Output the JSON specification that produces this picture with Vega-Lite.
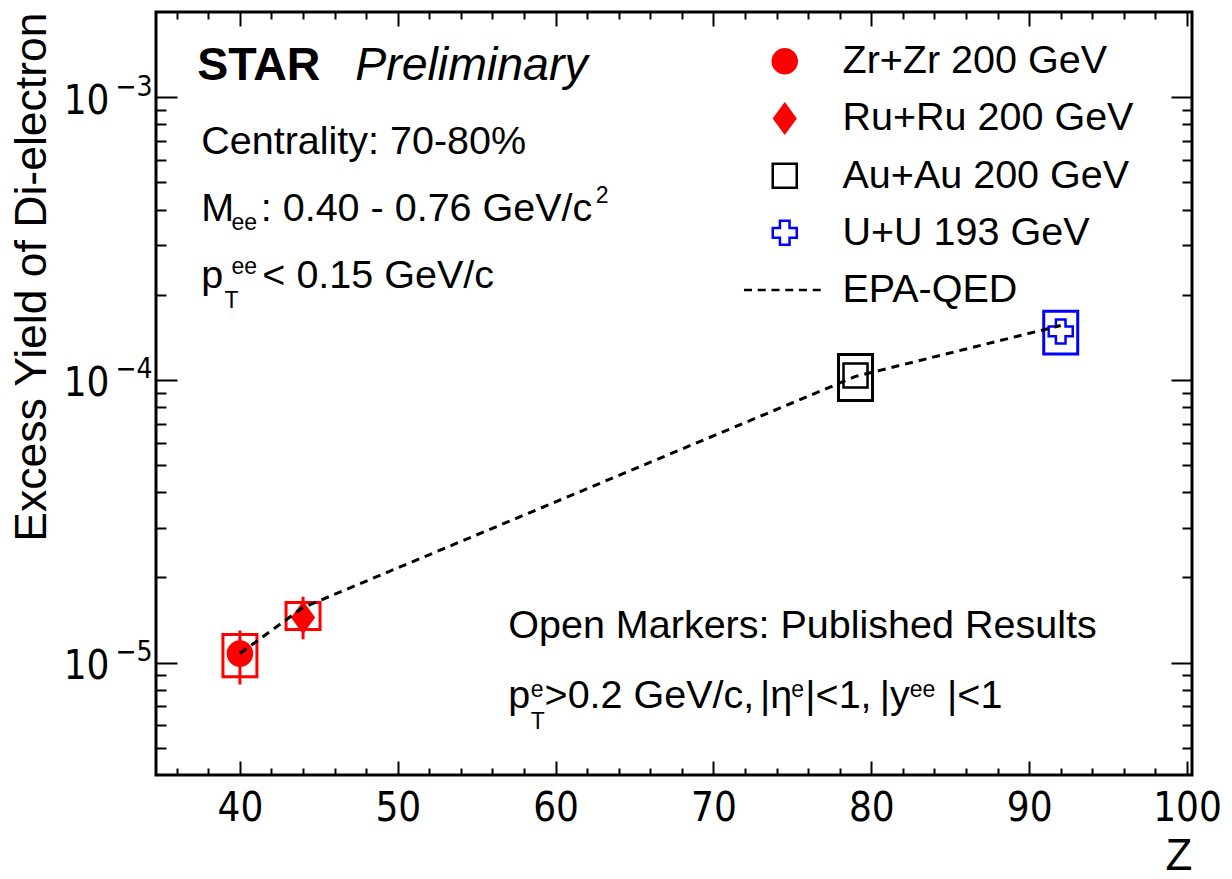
{
  "$schema": "https://vega.github.io/schema/vega-lite/v6.json",
  "autosize": {"type": "none"},
  "padding": {"left": 156, "top": 12, "right": 40, "bottom": 104},
  "width": 1036,
  "height": 763,
  "background": "white",
  "config": {
    "view": {"stroke": "black", "strokeWidth": 3},
    "axis": {"grid": false, "domain": false, "tickColor": "black", "labelColor": "black", "titleColor": "black"}
  },
  "datasets": {
    "pts": [
      {"series": "Zr+Zr 200 GeV", "Z": 40, "val": 1.076e-5, "sysLo": 0.891e-5, "sysHi": 1.256e-5, "errLo": 0.836e-5, "errHi": 1.297e-5},
      {"series": "Ru+Ru 200 GeV", "Z": 44, "val": 1.443e-5, "sysLo": 1.309e-5, "sysHi": 1.629e-5, "errLo": 1.208e-5, "errHi": 1.709e-5},
      {"series": "Au+Au 200 GeV", "Z": 79, "val": 1.036e-4, "sysLo": 0.845e-4, "sysHi": 1.230e-4},
      {"series": "U+U 193 GeV", "Z": 92, "val": 1.483e-4, "sysLo": 1.233e-4, "sysHi": 1.748e-4}
    ],
    "epa": [
      {"series": "EPA-QED", "Z": 40, "epa": 1.076e-5},
      {"series": "EPA-QED", "Z": 44, "epa": 1.565e-5},
      {"series": "EPA-QED", "Z": 79, "epa": 1.028e-4},
      {"series": "EPA-QED", "Z": 92, "epa": 1.556e-4}
    ],
    "mainText": [
      {"t": "Centrality: 70-80%", "z": 37.55, "v": 6.27e-4},
      {"t": "M", "z": 37.55, "v": 3.64e-4},
      {"t": ": 0.40 - 0.76 GeV/c", "z": 41.32, "v": 3.64e-4},
      {"t": "p", "z": 37.55, "v": 2.115e-4},
      {"t": "< 0.15 GeV/c", "z": 41.42, "v": 2.115e-4},
      {"t": "Open Markers: Published Results", "z": 57.0, "v": 1.223e-5},
      {"t": "p", "z": 57.0, "v": 6.915e-6},
      {"t": ">0.2 GeV/c,", "z": 59.3, "v": 6.915e-6},
      {"t": "|η", "z": 72.95, "v": 6.915e-6},
      {"t": "|<1,", "z": 75.82, "v": 6.915e-6},
      {"t": "|y", "z": 80.54, "v": 6.915e-6},
      {"t": "|<1", "z": 84.8, "v": 6.915e-6}
    ],
    "smallText": [
      {"t": "ee", "z": 39.47, "v": 3.40e-4},
      {"t": "2", "z": 62.54, "v": 4.22e-4},
      {"t": "ee", "z": 39.47, "v": 2.358e-4},
      {"t": "T", "z": 39.02, "v": 1.798e-4},
      {"t": "e", "z": 58.42, "v": 7.56e-6},
      {"t": "T", "z": 58.42, "v": 5.83e-6},
      {"t": "e", "z": 74.93, "v": 7.56e-6},
      {"t": "ee", "z": 82.44, "v": 7.56e-6}
    ],
    "boldText": [{"t": "STAR", "z": 37.3, "v": 1.154e-3}],
    "italicText": [{"t": "Preliminary", "z": 47.3, "v": 1.154e-3}]
  },
  "resolve": {"axis": {"x": "independent", "y": "independent"}},
  "layer": [
    {
      "data": {"name": "pts"},
      "mark": {"type": "point", "filled": true, "opacity": 1, "size": 576, "strokeWidth": 2.5},
      "encoding": {
        "x": {"field": "Z", "type": "quantitative", "scale": {"domain": [35, 100], "nice": false, "zero": false},
          "axis": {"orient": "bottom", "values": [36, 38, 42, 44, 46, 48, 52, 54, 56, 58, 62, 64, 66, 68, 72, 74, 76, 78, 82, 84, 86, 88, 92, 94, 96, 98], "tickSize": -7, "tickWidth": 2, "labels": false, "title": null}},
        "y": {"field": "val", "type": "quantitative", "scale": {"type": "log", "domain": [4e-6, 2e-3], "nice": false},
          "axis": {"orient": "left", "values": [5e-6, 6e-6, 7e-6, 8e-6, 9e-6, 2e-5, 3e-5, 4e-5, 5e-5, 6e-5, 7e-5, 8e-5, 9e-5, 2e-4, 3e-4, 4e-4, 5e-4, 6e-4, 7e-4, 8e-4, 9e-4], "tickSize": -10, "tickWidth": 2, "labels": false, "title": null}},
        "shape": {"field": "series", "type": "nominal",
          "scale": {"domain": ["Zr+Zr 200 GeV", "Ru+Ru 200 GeV", "Au+Au 200 GeV", "U+U 193 GeV", "EPA-QED"],
            "range": ["circle", "M0,-1.2L0.88,0L0,1.2L-0.88,0Z", "square", "cross", "M-3.4,0H-2.73M-2.254,0H-1.584M-1.108,0H-0.438M0.038,0H0.708M1.184,0H1.854M2.33,0H3.0"]},
          "legend": {"orient": "none", "legendX": 609, "legendY": 29.5, "title": null, "padding": 0,
            "labelFont": "Liberation Sans", "labelFontSize": 39.5, "labelColor": "black", "labelOffset": 38, "labelLimit": 500,
            "symbolSize": 576, "symbolStrokeWidth": 2.5, "rowPadding": 16.2, "symbolOffset": 0}},
        "fill": {"field": "series", "type": "nominal",
          "scale": {"domain": ["Zr+Zr 200 GeV", "Ru+Ru 200 GeV", "Au+Au 200 GeV", "U+U 193 GeV", "EPA-QED"], "range": ["#ff0000", "#ff0000", "transparent", "transparent", "transparent"]},
          "legend": {"orient": "none", "legendX": 609, "legendY": 29.5, "title": null, "padding": 0,
            "labelFont": "Liberation Sans", "labelFontSize": 39.5, "labelColor": "black", "labelOffset": 38, "labelLimit": 500,
            "symbolSize": 576, "symbolStrokeWidth": 2.5, "rowPadding": 16.2, "symbolOffset": 0}},
        "stroke": {"field": "series", "type": "nominal",
          "scale": {"domain": ["Zr+Zr 200 GeV", "Ru+Ru 200 GeV", "Au+Au 200 GeV", "U+U 193 GeV", "EPA-QED"], "range": ["#ff0000", "#ff0000", "#000000", "#0000ff", "#000000"]},
          "legend": {"orient": "none", "legendX": 609, "legendY": 29.5, "title": null, "padding": 0,
            "labelFont": "Liberation Sans", "labelFontSize": 39.5, "labelColor": "black", "labelOffset": 38, "labelLimit": 500,
            "symbolSize": 576, "symbolStrokeWidth": 2.5, "rowPadding": 16.2, "symbolOffset": 0}}
      }
    },
    {
      "data": {"name": "pts"},
      "mark": {"type": "bar", "width": 34, "fill": "transparent", "strokeWidth": 3},
      "encoding": {
        "x": {"field": "Z", "type": "quantitative", "scale": {"domain": [35, 100], "nice": false, "zero": false},
          "axis": {"orient": "bottom", "values": [40, 50, 60, 70, 80, 90, 100], "ticks": false,
            "labelFont": "Liberation Sans Narrow, DejaVu Sans Condensed, Liberation Sans", "labelFontSize": 40, "labelPadding": 13,
            "labelFlush": false, "labelOverlap": false, "labelBound": false,
            "title": "Z", "titleFont": "Liberation Sans", "titleFontSize": 44, "titleFontWeight": "normal",
            "titleAlign": "right", "titleBaseline": "alphabetic", "titleX": 1036, "titleY": 94, "titleAngle": 0}},
        "y": {"field": "sysLo", "type": "quantitative", "scale": {"type": "log", "domain": [4e-6, 2e-3], "nice": false},
          "axis": {"orient": "left", "values": [1e-5, 1e-4, 1e-3], "ticks": false, "labelExpr": "'10'",
            "labelFont": "Liberation Sans Narrow, DejaVu Sans Condensed, Liberation Sans", "labelFontSize": 40, "labelPadding": 47, "labelOffset": 4,
            "labelFlush": false, "labelOverlap": false, "labelBound": false,
            "title": "Excess Yield of Di-electron", "titleFont": "Liberation Sans", "titleFontSize": 44.5, "titleFontWeight": "normal",
            "titleAngle": -90, "titleAlign": "right", "titleBaseline": "alphabetic", "titleX": -111, "titleY": 0}},
        "y2": {"field": "sysHi"},
        "stroke": {"field": "series", "type": "nominal",
          "scale": {"domain": ["Zr+Zr 200 GeV", "Ru+Ru 200 GeV", "Au+Au 200 GeV", "U+U 193 GeV", "EPA-QED"], "range": ["#ff0000", "#ff0000", "#000000", "#0000ff", "#000000"]},
          "legend": null}
      }
    },
    {
      "data": {"name": "pts"},
      "transform": [{"filter": "isValid(datum.errLo)"}],
      "mark": {"type": "rule", "strokeWidth": 3},
      "encoding": {
        "x": {"field": "Z", "type": "quantitative", "scale": {"domain": [35, 100], "nice": false, "zero": false},
          "axis": {"orient": "bottom", "values": [40, 50, 60, 70, 80, 90, 100], "tickSize": -14, "tickWidth": 2, "labels": false, "title": null}},
        "y": {"field": "errLo", "type": "quantitative", "scale": {"type": "log", "domain": [4e-6, 2e-3], "nice": false},
          "axis": {"orient": "left", "values": [1e-5, 1e-4, 1e-3], "tickSize": -21, "tickWidth": 2, "labels": false, "title": null}},
        "y2": {"field": "errHi"},
        "stroke": {"field": "series", "type": "nominal",
          "scale": {"domain": ["Zr+Zr 200 GeV", "Ru+Ru 200 GeV", "Au+Au 200 GeV", "U+U 193 GeV", "EPA-QED"], "range": ["#ff0000", "#ff0000", "#000000", "#0000ff", "#000000"]},
          "legend": null}
      }
    },
    {
      "data": {"name": "epa"},
      "mark": {"type": "line", "strokeWidth": 3, "strokeDash": [8, 6]},
      "encoding": {
        "x": {"field": "Z", "type": "quantitative", "scale": {"domain": [35, 100], "nice": false, "zero": false},
          "axis": {"orient": "top", "values": [40, 50, 60, 70, 80, 90, 100], "tickSize": -14, "tickWidth": 2, "labels": false, "title": null}},
        "y": {"field": "epa", "type": "quantitative", "scale": {"type": "log", "domain": [4e-6, 2e-3], "nice": false},
          "axis": {"orient": "right", "values": [1e-5, 1e-4, 1e-3], "tickSize": -21, "tickWidth": 2, "labels": false, "title": null}},
        "stroke": {"field": "series", "type": "nominal",
          "scale": {"domain": ["Zr+Zr 200 GeV", "Ru+Ru 200 GeV", "Au+Au 200 GeV", "U+U 193 GeV", "EPA-QED"], "range": ["#ff0000", "#ff0000", "#000000", "#0000ff", "#000000"]},
          "legend": null}
      }
    },
    {
      "data": {"name": "mainText"},
      "mark": {"type": "text", "font": "Liberation Sans", "fontSize": 39.5, "align": "left", "baseline": "alphabetic", "color": "black"},
      "encoding": {
        "x": {"field": "z", "type": "quantitative", "scale": {"domain": [35, 100], "nice": false, "zero": false},
          "axis": {"orient": "top", "values": [36, 38, 42, 44, 46, 48, 52, 54, 56, 58, 62, 64, 66, 68, 72, 74, 76, 78, 82, 84, 86, 88, 92, 94, 96, 98], "tickSize": -7, "tickWidth": 2, "labels": false, "title": null}},
        "y": {"field": "v", "type": "quantitative", "scale": {"type": "log", "domain": [4e-6, 2e-3], "nice": false},
          "axis": {"orient": "right", "values": [5e-6, 6e-6, 7e-6, 8e-6, 9e-6, 2e-5, 3e-5, 4e-5, 5e-5, 6e-5, 7e-5, 8e-5, 9e-5, 2e-4, 3e-4, 4e-4, 5e-4, 6e-4, 7e-4, 8e-4, 9e-4], "tickSize": -10, "tickWidth": 2, "labels": false, "title": null}},
        "text": {"field": "t"}
      }
    },
    {
      "data": {"name": "smallText"},
      "mark": {"type": "text", "font": "Liberation Sans", "fontSize": 23, "align": "left", "baseline": "alphabetic", "color": "black"},
      "encoding": {
        "x": {"field": "z", "type": "quantitative", "scale": {"domain": [35, 100], "nice": false, "zero": false}, "axis": null},
        "y": {"field": "v", "type": "quantitative", "scale": {"type": "log", "domain": [4e-6, 2e-3], "nice": false},
          "axis": {"orient": "left", "values": [1e-5, 1e-4, 1e-3], "ticks": false, "labelExpr": "'−' + round(-log(datum.value)/LN10)",
            "labelFont": "Liberation Sans Narrow, DejaVu Sans Condensed, Liberation Sans", "labelFontSize": 28, "labelPadding": 4, "labelOffset": -10,
            "labelFlush": false, "labelOverlap": false, "labelBound": false, "title": null}},
        "text": {"field": "t"}
      }
    },
    {
      "data": {"name": "boldText"},
      "mark": {"type": "text", "font": "Liberation Sans", "fontSize": 46.5, "fontWeight": "bold", "align": "left", "baseline": "alphabetic", "color": "black"},
      "encoding": {
        "x": {"field": "z", "type": "quantitative", "scale": {"domain": [35, 100], "nice": false, "zero": false}, "axis": null},
        "y": {"field": "v", "type": "quantitative", "scale": {"type": "log", "domain": [4e-6, 2e-3], "nice": false}, "axis": null},
        "text": {"field": "t"}
      }
    },
    {
      "data": {"name": "italicText"},
      "mark": {"type": "text", "font": "Liberation Sans", "fontSize": 46.5, "fontStyle": "italic", "align": "left", "baseline": "alphabetic", "color": "black"},
      "encoding": {
        "x": {"field": "z", "type": "quantitative", "scale": {"domain": [35, 100], "nice": false, "zero": false}, "axis": null},
        "y": {"field": "v", "type": "quantitative", "scale": {"type": "log", "domain": [4e-6, 2e-3], "nice": false}, "axis": null},
        "text": {"field": "t"}
      }
    }
  ]
}
